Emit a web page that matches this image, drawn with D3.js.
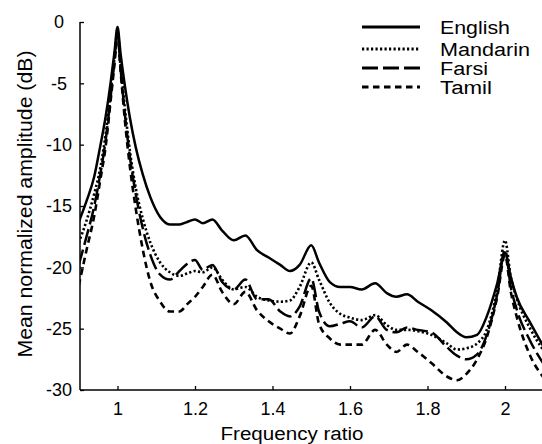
<!DOCTYPE html>
<html><head><meta charset="utf-8">
<script src="https://cdn.jsdelivr.net/npm/d3@7"></script>
<style>
html,body{margin:0;padding:0;background:#fff;}
text{font-family:"Liberation Sans",Arial,Helvetica,sans-serif;fill:#000;}
</style></head>
<body><svg id="c" width="542" height="444"></svg>
<script>
const freq = [0.9,0.92,0.94,0.955,0.97,0.982,0.992,1.0,1.008,1.019,1.032,1.047,1.065,1.085,1.11,1.135,1.16,1.18,1.2,1.22,1.245,1.27,1.3,1.33,1.36,1.39,1.42,1.445,1.47,1.5,1.52,1.548,1.575,1.6,1.63,1.665,1.695,1.72,1.747,1.775,1.81,1.85,1.876,1.9,1.928,1.953,1.98,2.0,2.015,2.03,2.065,2.1];
const english = [-16.3,-14.6,-12.6,-10.2,-7.6,-5.0,-2.5,-0.4,-2.6,-5.2,-7.8,-10.2,-12.4,-14.3,-15.9,-16.5,-16.5,-16.3,-16.1,-16.4,-16.1,-17.0,-17.8,-17.4,-18.6,-19.2,-19.8,-20.3,-19.8,-18.2,-19.6,-21.2,-21.6,-21.6,-21.8,-21.3,-22.1,-22.4,-22.2,-22.8,-23.5,-24.5,-25.3,-25.7,-25.5,-24.0,-21.3,-18.8,-20.8,-22.4,-24.5,-26.5];
const mandarin = [-18.0,-16.2,-14.0,-12.0,-9.0,-5.8,-3.0,-0.8,-3.5,-7.0,-10.5,-13.5,-16.0,-18.0,-19.6,-20.4,-20.7,-20.5,-20.3,-20.4,-20.0,-21.0,-21.8,-21.6,-22.4,-22.7,-22.8,-22.7,-21.6,-19.6,-21.0,-22.9,-23.8,-24.1,-24.3,-23.9,-24.7,-25.1,-25.1,-25.2,-25.5,-26.2,-26.7,-26.6,-26.2,-25.1,-21.8,-17.8,-20.8,-22.5,-25.0,-26.8];
const farsi = [-19.8,-17.5,-15.0,-12.5,-9.5,-6.2,-3.2,-0.8,-3.8,-7.5,-11.0,-14.0,-16.8,-19.0,-20.6,-21.0,-20.3,-19.7,-19.4,-20.2,-19.8,-21.2,-21.8,-21.0,-22.6,-22.6,-23.6,-24.0,-23.2,-20.9,-23.6,-24.8,-24.6,-24.4,-24.9,-24.0,-25.1,-25.3,-24.9,-25.1,-25.3,-26.5,-27.2,-27.5,-27.1,-25.5,-22.2,-18.6,-21.6,-23.4,-26.0,-27.9];
const tamil = [-21.5,-18.6,-15.8,-13.0,-10.0,-6.5,-3.5,-1.0,-4.0,-8.0,-11.8,-15.2,-18.5,-21.2,-22.8,-23.6,-23.6,-23.0,-22.4,-21.6,-20.6,-22.0,-23.0,-22.0,-23.5,-24.4,-25.0,-25.4,-24.0,-21.5,-24.6,-25.8,-26.3,-26.3,-26.3,-25.1,-26.3,-26.9,-26.3,-26.9,-27.8,-28.9,-29.2,-28.7,-27.5,-25.7,-22.4,-19.0,-22.0,-24.0,-27.2,-29.0];
const seriesNames = ["English","Mandarin","Farsi","Tamil"];
const xTicks = [1,1.2,1.4,1.6,1.8,2];
const xTickLabels = ["1","1.2","1.4","1.6","1.8","2"];
const yTicks = [0,-5,-10,-15,-20,-25,-30];
const yTickLabels = ["0","-5","-10","-15","-20","-25","-30"];

const svg = d3.select("#c");
const pLeft = 80, pRight = 542, pTop = 22, pBottom = 390;
const x = d3.scaleLinear().domain([1,2]).range([117.5,505]);
const y = d3.scaleLinear().domain([-30,0]).range([pBottom,pTop]);

const styles = [
  {dash:null, w:2.5},
  {dash:"2.2,2.3", w:2.6},
  {dash:"16,5", w:2.5},
  {dash:"6.5,4.5", w:2.6}
];
const allSeries = [english, mandarin, farsi, tamil];

svg.append("clipPath").attr("id","clip").append("rect")
  .attr("x",pLeft).attr("y",0).attr("width",pRight-pLeft).attr("height",pBottom);

const line = d3.line().x((d,i)=>x(freq[i])).y(d=>y(d)).curve(d3.curveMonotoneX);
const g = svg.append("g").attr("clip-path","url(#clip)");
allSeries.forEach((s,k)=>{
  g.append("path").datum(s).attr("d",line)
   .attr("fill","none").attr("stroke","#000")
   .attr("stroke-width",styles[k].w)
   .attr("stroke-linejoin","round")
   .attr("stroke-dasharray",styles[k].dash);
});

// axes
const xAxis = d3.axisBottom(x).tickValues(xTicks).tickFormat((d,i)=>xTickLabels[i]).tickSizeInner(-4).tickSizeOuter(0);
const xg = svg.append("g").attr("transform",`translate(0,${pBottom})`).call(xAxis);
xg.select(".domain").remove();
xg.append("line").attr("x1",pLeft).attr("x2",pRight).attr("y1",0).attr("y2",0).attr("stroke","#000").attr("stroke-width",1.5);
xg.selectAll(".tick line").attr("stroke-width",1.3);
xg.selectAll(".tick text").attr("font-size",18).attr("font-family","'Liberation Sans',Arial,sans-serif").attr("dy",null).attr("y",25);

const yAxis = d3.axisLeft(y).tickValues(yTicks).tickFormat((d,i)=>yTickLabels[i]).tickSizeInner(-4).tickSizeOuter(0);
const yg = svg.append("g").attr("transform",`translate(${pLeft},0)`).call(yAxis);
yg.select(".domain").remove();
yg.append("line").attr("x1",0).attr("x2",0).attr("y1",pTop).attr("y2",pBottom).attr("stroke","#000").attr("stroke-width",1.5);
yg.selectAll(".tick line").attr("stroke-width",1.3);
yg.selectAll(".tick text").attr("font-size",18).attr("font-family","'Liberation Sans',Arial,sans-serif")
  .attr("text-anchor","middle").attr("x",-21);

// axis labels
svg.append("text").attr("x",292).attr("y",440).attr("text-anchor","middle")
  .attr("font-size",18).attr("textLength",143).attr("lengthAdjust","spacingAndGlyphs").text("Frequency ratio");
svg.append("text").attr("transform","translate(32,204) rotate(-90)").attr("text-anchor","middle")
  .attr("font-size",20).attr("textLength",307).attr("lengthAdjust","spacingAndGlyphs").text("Mean normalized amplitude (dB)");

// legend
const legY = [27,49,68,87];
const legW = [70,90,48,52];
seriesNames.forEach((n,k)=>{
  svg.append("line").attr("x1",362).attr("x2",420).attr("y1",legY[k]).attr("y2",legY[k])
    .attr("stroke","#000").attr("stroke-width",styles[k].w+0.4).attr("stroke-dasharray",styles[k].dash);
  svg.append("text").attr("x",440).attr("y",legY[k]+7).attr("font-size",18)
    .attr("textLength",legW[k]).attr("lengthAdjust","spacingAndGlyphs").text(n);
});
</script></body></html>
